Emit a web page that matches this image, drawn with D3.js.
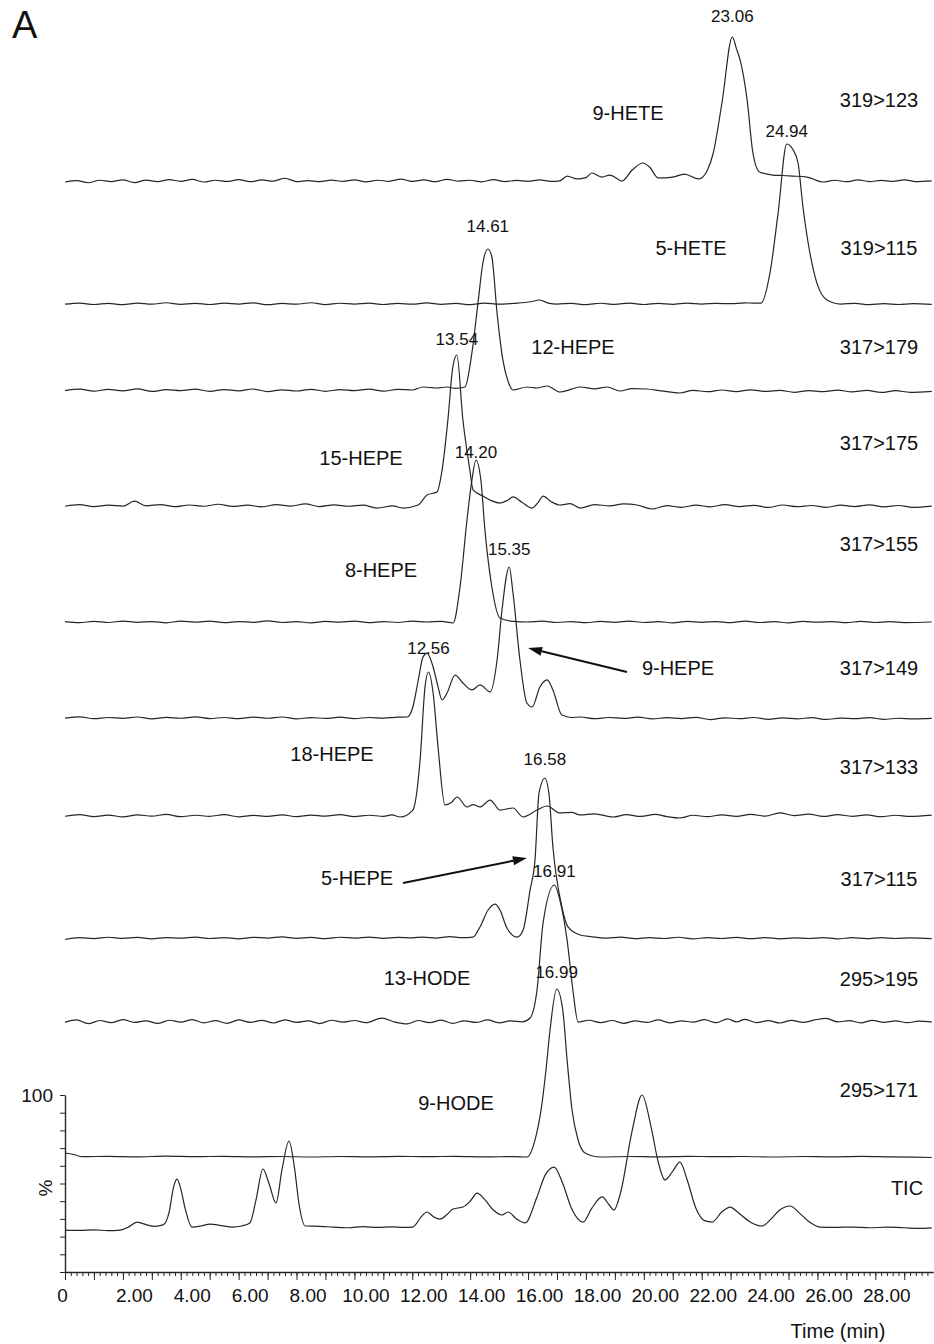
<!DOCTYPE html>
<html>
<head>
<meta charset="utf-8">
<script src="https://cdn.jsdelivr.net/npm/d3@7"></script>
<style>
    body { margin: 0; background: #fff; }
    svg text { font-family: 'Liberation Sans', Arial, Helvetica, sans-serif; fill: #111; }
</style>
</head>
<body>
<svg id="chart" width="934" height="1344"></svg>
<script>
// chromatograms, [time (min), relative intensity %]
const compounds = ['9-HETE', '5-HETE', '12-HEPE', '15-HEPE', '8-HEPE', '9-HEPE', '18-HEPE', '5-HEPE', '13-HODE', '9-HODE'];
const transitions = ['319>123', '319>115', '317>179', '317>175', '317>155', '317>149', '317>133', '317>115', '295>195', '295>171'];
const peakTimes = [23.06, 24.94, 14.61, 13.54, 14.20, 15.35, 12.56, 16.58, 16.91, 16.99];
const xTickValues = [0, 2, 4, 6, 8, 10, 12, 14, 16, 18, 20, 22, 24, 26, 28];

const hete9 = [[0,0],[0.4,1],[0.8,-0.5],[1.2,1.2],[1.6,0.3],[2.0,1.5],[2.4,-0.4],[2.8,1.3],[3.2,0.2],[3.6,1.6],[4.0,0.5],[4.4,1.8],[4.8,0],[5.2,1.2],[5.6,0.4],[6.0,1.6],[6.4,0.2],[6.8,1.4],[7.2,0.6],[7.6,2.6],[8.0,0.3],[8.4,1.0],[8.8,0.2],[9.2,1.3],[9.6,0.4],[10.0,1.5],[10.4,0.1],[10.8,1.2],[11.2,0.5],[11.6,2.0],[12.0,0.4],[12.4,1.4],[12.8,0.2],[13.2,1.8],[13.6,0.6],[14.0,1.2],[14.4,0.1],[14.8,1.6],[15.2,0.3],[15.6,1.1],[16.0,0.5],[16.4,1.5],[16.8,0.4],[17.1,0.8],[17.35,4.1],[17.7,2.1],[18.0,3.0],[18.2,6.2],[18.55,3.4],[18.83,4.8],[19.25,0.7],[19.6,8.3],[19.97,13.1],[20.2,10.3],[20.5,2.8],[21.0,3.4],[21.4,5.5],[21.9,2.1],[22.2,8.3],[22.4,20],[22.7,54.5],[23.06,100],[23.2,92],[23.33,84],[23.57,56.6],[23.77,20],[24.0,6.9],[24.46,4.8],[24.8,4.5],[25.15,4.1],[25.64,3.4],[26.2,0],[26.6,1.2],[27.0,0.2],[27.4,1.4],[27.8,0.3],[28.2,1.1],[28.6,0.4],[29.0,1.5],[29.4,0.3],[29.95,0.8]];
const hete5 = [[0,0.5],[0.5,1.2],[1.0,0.3],[1.5,1.0],[2.0,0.2],[2.5,1.2],[3.0,0.5],[3.5,1.4],[4.0,0.4],[4.5,1.0],[5.0,0.3],[5.5,1.2],[6.0,0.6],[6.5,1.3],[7.0,0.2],[7.5,1.0],[8.0,0.5],[8.5,1.4],[9.0,0.2],[9.5,1.1],[10.0,0.6],[10.5,1.2],[11.0,0.3],[11.5,1.0],[12.0,0.5],[12.5,1.3],[13.0,0.4],[13.5,1.0],[14.0,0.2],[14.5,1.2],[15.0,0.5],[15.5,1.0],[16.1,2.0],[16.4,3.1],[16.7,1.2],[17.0,0.6],[17.5,1.0],[18.0,0.2],[18.5,1.1],[19.0,0.4],[19.5,1.2],[20.0,0.3],[20.5,1.0],[21.0,0.4],[21.5,1.2],[22.0,0.6],[22.5,1.0],[23.0,0.8],[23.5,1.3],[23.8,1.2],[24.05,1.2],[24.36,19.9],[24.64,57.1],[24.94,100],[25.16,96.3],[25.33,88.2],[25.5,60.9],[25.74,32.3],[25.98,13.7],[26.33,3.1],[26.8,0.6],[27.3,1.0],[27.8,0.2],[28.3,0.8],[28.8,0.3],[29.3,0.9],[29.95,0.4]];
const hepe12 = [[0,1.0],[0.5,2.0],[1.0,0.6],[1.5,1.8],[2.0,0.8],[2.5,2.2],[3.0,0.4],[3.5,1.6],[4.0,0.9],[4.5,2.0],[5.0,0.5],[5.5,1.7],[6.0,0.8],[6.5,2.1],[7.0,0.3],[7.5,1.5],[8.0,0.7],[8.5,1.9],[9.0,0.5],[9.5,1.6],[10.0,0.9],[10.5,2.0],[11.0,0.6],[11.5,1.8],[12.0,1.4],[12.37,3.5],[12.85,2.8],[13.2,3.5],[13.5,2.5],[13.82,3.5],[14.06,27.3],[14.27,62.2],[14.44,90.2],[14.61,100],[14.75,94.4],[14.93,55.2],[15.13,22.4],[15.3,8],[15.48,1.4],[15.96,3.5],[16.3,2.8],[16.66,4.2],[17.1,0],[17.5,2.0],[17.8,3.5],[18.3,2.2],[18.73,3.5],[19.18,0.7],[19.6,2.4],[20.1,2.1],[20.6,0.8],[21.25,-0.7],[21.7,1.2],[22.2,0.2],[22.7,1.4],[23.2,0.3],[23.7,1.5],[24.2,0.4],[24.7,1.2],[25.2,-0.2],[25.7,1.0],[26.2,0.2],[26.7,1.3],[27.2,0.1],[27.7,1.1],[28.2,-0.3],[28.7,0.9],[29.2,-0.2],[29.95,0.5]];
const hepe15 = [[0,0.5],[0.5,1.5],[1.0,0.2],[1.5,1.2],[2.0,0.6],[2.4,3.8],[2.8,0.8],[3.3,1.6],[3.8,0.2],[4.3,1.3],[4.8,0.5],[5.3,1.8],[5.8,0.4],[6.3,1.2],[6.8,0.1],[7.3,1.5],[7.8,0.6],[8.3,2.0],[8.8,0.3],[9.3,1.4],[9.8,0.5],[10.3,1.2],[10.78,-0.7],[11.33,0.7],[11.68,-0.7],[12.2,1.3],[12.51,7.9],[12.85,9.9],[13.03,24.3],[13.23,57.2],[13.4,92],[13.54,100],[13.75,57.2],[13.99,24.3],[14.1,11.2],[14.44,7.2],[14.75,4.0],[15.03,2.6],[15.3,4.5],[15.48,6.6],[15.8,3.0],[16.14,-0.7],[16.35,3.0],[16.52,7.2],[16.8,3.5],[17.1,1.3],[17.45,2.2],[17.8,-0.7],[18.3,1.6],[18.83,0.7],[19.3,2.0],[19.77,1.3],[20.3,-1.3],[20.8,0.9],[21.3,-0.2],[21.8,1.2],[22.3,0.1],[22.8,1.5],[23.3,0.3],[23.8,1.1],[24.3,-0.3],[24.8,1.3],[25.3,0.2],[25.8,1.0],[26.3,-0.2],[26.8,1.2],[27.3,0.3],[27.8,1.4],[28.3,0.1],[28.8,1.0],[29.3,-0.2],[29.95,0.6]];
const hepe8 = [[0,0.8],[0.5,0.2],[1.0,1.0],[1.5,0.3],[2.0,1.2],[2.5,0.4],[3.0,0.9],[3.5,0.1],[4.0,1.1],[4.5,0.5],[5.0,1.2],[5.5,0.2],[6.0,0.9],[6.5,0.4],[7.0,1.3],[7.5,0.3],[8.0,0.8],[8.5,0.1],[9.0,1.0],[9.5,0.5],[10.0,1.1],[10.5,0.2],[11.0,0.9],[11.5,0.3],[12.0,1.2],[12.5,0.6],[13.0,1.0],[13.41,0],[13.65,22.1],[13.89,63.2],[14.06,87.7],[14.2,100],[14.37,87.7],[14.51,57.1],[14.75,22.1],[15.03,3.1],[15.5,1.0],[15.96,0.6],[16.5,1.1],[17.0,0.3],[17.5,0.9],[18.0,0.2],[18.5,1.0],[19.0,0.4],[19.5,1.2],[20.0,0.3],[20.5,0.8],[21.0,0.1],[21.5,1.0],[22.0,0.4],[22.5,0.9],[23.0,0.2],[23.5,1.1],[24.0,0.3],[24.5,0.8],[25.0,0.1],[25.5,1.0],[26.0,0.5],[26.5,0.9],[27.0,0.2],[27.5,1.0],[28.0,0.3],[28.5,0.8],[29.0,0.2],[29.95,0.6]];
const hepe9 = [[0,0.6],[0.5,1.4],[1.0,0.2],[1.5,1.0],[2.0,0.4],[2.5,1.3],[3.0,0.1],[3.5,1.1],[4.0,0.5],[4.5,1.4],[5.0,0.3],[5.5,1.0],[6.0,0.2],[6.5,1.2],[7.0,0.5],[7.5,1.3],[8.0,0.1],[8.5,0.9],[9.0,0.4],[9.5,1.2],[10.0,0.3],[10.5,1.0],[11.0,0.6],[11.5,1.2],[11.82,1.3],[12.02,7.9],[12.2,25],[12.37,40.8],[12.51,43.4],[12.72,34.2],[12.88,22],[13.03,12.5],[13.2,17.1],[13.48,28.9],[13.75,23.7],[14.06,19.1],[14.34,22.4],[14.69,17.8],[14.93,38.8],[15.1,71.7],[15.35,100],[15.48,82.9],[15.72,38.8],[15.96,10.5],[16.14,7.9],[16.41,21.1],[16.66,25.7],[16.86,19.1],[17.17,2.6],[17.5,1.0],[17.8,1.3],[18.3,0.2],[18.8,1.0],[19.3,0.4],[19.8,1.2],[20.3,0.1],[20.8,0.9],[21.3,0.3],[21.8,1.1],[22.3,-0.4],[22.8,0.8],[23.3,0.2],[23.8,1.0],[24.3,-0.2],[24.8,0.7],[25.3,0.1],[25.8,0.9],[26.3,-0.3],[26.8,0.6],[27.3,0.2],[27.8,0.9],[28.3,-0.2],[28.8,0.5],[29.3,0.1],[29.95,0.4]];
const hepe18 = [[0,0.5],[0.5,1.6],[1.0,0.3],[1.5,1.3],[2.0,0.1],[2.5,1.5],[3.0,0.6],[3.5,1.8],[4.0,0.2],[4.5,1.2],[5.0,0.5],[5.5,1.6],[6.0,0.1],[6.5,1.1],[7.0,0.4],[7.5,1.5],[8.0,0.2],[8.5,1.3],[9.0,0.6],[9.5,1.7],[10.0,0.3],[10.5,1.2],[11.0,0.5],[11.3,1.4],[11.58,0],[12.02,4.8],[12.27,39.3],[12.44,89.7],[12.56,100],[12.72,85.5],[12.89,48.3],[13.13,8.3],[13.35,10],[13.55,13.8],[13.89,6.9],[14.1,8.5],[14.34,6.9],[14.69,11.7],[15.03,4.8],[15.48,6.2],[15.83,0],[16.31,4.8],[16.66,7.6],[17.1,2.8],[17.5,3.2],[17.8,1.4],[18.3,2.2],[18.94,0],[19.4,1.6],[19.9,0.4],[20.4,1.8],[20.8,0.3],[21.25,-0.7],[21.7,1.2],[22.2,0.2],[22.7,1.5],[23.2,0.5],[23.7,1.8],[24.2,0.6],[24.7,2.8],[25.2,1.0],[25.7,2.0],[26.2,0.4],[26.7,1.6],[27.2,0.5],[27.7,1.4],[28.2,0.2],[28.7,1.2],[29.2,0.4],[29.95,1.3]];
const hepe5 = [[0,-0.3],[0.5,0.8],[1.0,0.2],[1.5,1.1],[2.0,0.4],[2.5,1.0],[3.0,0.1],[3.5,0.9],[4.0,0.5],[4.5,1.2],[5.0,0.3],[5.5,0.9],[6.0,0.1],[6.5,1.0],[7.0,0.6],[7.5,1.3],[8.0,0.4],[8.5,1.0],[9.0,0.2],[9.5,1.1],[10.0,0.5],[10.5,1.2],[11.0,0.4],[11.5,1.0],[12.0,0.7],[12.37,1.2],[12.8,0.6],[13.3,1.5],[13.7,0.8],[14.1,1.2],[14.34,7.5],[14.62,18],[14.86,21.7],[15.03,18],[15.27,6.8],[15.62,1.2],[15.83,5.6],[16.07,30.4],[16.24,49],[16.38,90.7],[16.58,100],[16.72,90.7],[16.86,57.1],[17.17,19.9],[17.38,7.5],[17.8,2.5],[18.2,1.4],[18.73,0.6],[19.2,1.2],[19.7,0.2],[20.2,0.9],[20.7,0.3],[21.2,1.1],[21.7,0.1],[22.2,0.8],[22.7,0.3],[23.2,1.0],[23.7,0.2],[24.2,0.9],[24.7,0.1],[25.2,0.7],[25.7,0.3],[26.2,0.9],[26.7,0.1],[27.2,0.8],[27.7,0.2],[28.2,0.9],[28.7,0.3],[29.2,0.7],[29.95,0.2]];
const hode13 = [[0,0.5],[0.4,2.2],[0.8,-0.5],[1.2,1.8],[1.6,0.2],[2.0,2.5],[2.4,0.4],[2.8,1.6],[3.2,-0.3],[3.6,2.0],[4.0,0.6],[4.4,2.4],[4.8,0.1],[5.2,1.7],[5.6,-0.2],[6.0,2.2],[6.4,0.5],[6.8,1.9],[7.2,0],[7.6,2.3],[8.0,0.4],[8.4,1.6],[8.8,-0.4],[9.2,2.0],[9.6,0.6],[10.0,1.8],[10.4,0.2],[10.95,3.6],[11.4,0.6],[11.82,-0.7],[12.2,1.8],[12.6,0.3],[13.0,2.1],[13.4,-0.2],[13.8,1.6],[14.2,0.4],[14.6,2.2],[15.0,0.1],[15.4,1.5],[15.8,0.8],[16.07,3.6],[16.31,23.9],[16.52,72.5],[16.91,100],[17.1,89],[17.35,60],[17.55,23.9],[17.73,0.7],[18.1,2.0],[18.5,0.3],[18.9,1.8],[19.3,-0.2],[19.7,1.5],[20.1,0.4],[20.5,2.2],[20.9,0.1],[21.3,1.6],[21.7,0.6],[22.1,2.4],[22.5,0.2],[22.9,3.0],[23.2,0.8],[23.5,2.6],[23.9,0.3],[24.3,1.7],[24.7,0.0],[25.1,1.9],[25.5,0.4],[25.9,2.2],[26.3,3.4],[26.7,0.8],[27.1,1.7],[27.5,0.1],[27.9,1.9],[28.3,0.5],[28.7,1.6],[29.1,0.2],[29.5,1.3],[29.95,0.6]];
const hode9 = [[0,2.4],[0.3,1.5],[0.6,0.2],[1.5,0.4],[2.5,0.1],[3.5,0.5],[4.5,0.2],[5.5,0.4],[6.5,0.1],[7.5,0.3],[8.5,0.0],[9.5,0.3],[10.5,0.1],[11.5,0.4],[12.5,0.2],[13.5,0.4],[14.5,0.1],[15.5,0.2],[15.96,0],[16.24,10.1],[16.45,28],[16.62,51.8],[16.76,75.6],[16.99,100],[17.2,87.5],[17.35,57.7],[17.52,28],[17.73,10.1],[17.97,2.4],[18.49,0],[19.5,0.3],[20.5,0.1],[21.5,0.4],[22.5,0.2],[23.5,0.3],[24.5,0],[25.5,0.3],[26.5,0.1],[27.5,0.4],[28.5,0.1],[29.95,-0.3]];
const tic = [[0,23.7],[0.5,23.5],[1.0,23.8],[1.5,23.4],[1.9,23.7],[2.2,25.5],[2.49,28.2],[2.83,26.6],[3.1,25.8],[3.39,26.6],[3.6,34],[3.75,48],[3.87,52.5],[4.0,47],[4.15,36],[4.39,25.4],[4.7,26],[5.01,27.1],[5.4,26.2],[5.8,25.4],[6.1,26],[6.39,27.7],[6.6,40.7],[6.84,58.2],[7.05,50],[7.29,39],[7.5,58],[7.74,74],[7.92,60],[8.1,37],[8.3,26],[8.8,25.8],[9.26,25.4],[9.8,25],[10.3,25.6],[10.8,25.2],[11.3,25.5],[11.7,25.2],[12.02,25.4],[12.3,31],[12.51,33.9],[12.75,31],[12.96,29.9],[13.2,32.5],[13.41,35.6],[13.75,36.7],[14.0,40],[14.24,44.6],[14.5,41],[14.8,35],[15.1,32.2],[15.31,33.9],[15.6,30],[15.9,27.7],[16.3,42],[16.6,55],[16.9,59.3],[17.2,50],[17.5,36],[17.9,28.2],[18.2,36],[18.56,42.4],[18.8,38],[18.97,35],[19.2,45],[19.6,80],[19.94,100],[20.25,82],[20.5,62],[20.73,52],[21.0,57],[21.25,62.1],[21.5,52],[21.8,36],[22.1,29],[22.36,28.2],[22.7,34],[22.98,36.7],[23.3,33],[23.7,28],[24.08,26],[24.4,30],[24.7,35],[25.05,37.3],[25.4,33],[25.7,28.5],[26.09,25.4],[26.6,25.2],[27.2,25.4],[27.8,25],[28.4,25.3],[29.0,25],[29.5,24.6],[29.95,24.9]];

const traces = [hete9, hete5, hepe12, hepe15, hepe8, hepe9, hepe18, hepe5, hode13, hode9];

// layout of each stacked trace (pixels)
const lanes = [
    { base: 182, height: 145, peakDy: 15, nameX: 628, nameY: 120, transY: 107 },
    { base: 305, height: 161, peakDy: 7, nameX: 691, nameY: 255, transY: 255 },
    { base: 392, height: 143, peakDy: 17, nameX: 573, nameY: 354, transY: 354 },
    { base: 507, height: 152, peakDy: 10, nameX: 361, nameY: 465, transY: 450 },
    { base: 623, height: 163, peakDy: 2, nameX: 381, nameY: 577, transY: 551 },
    { base: 719, height: 152, peakDy: 12, nameX: 678, nameY: 675, transY: 675 },
    { base: 817, height: 145, peakDy: 18, nameX: 332, nameY: 761, transY: 774 },
    { base: 939, height: 161, peakDy: 13, nameX: 357, nameY: 885, transY: 886 },
    { base: 1023, height: 138, peakDy: 8, nameX: 427, nameY: 985, transY: 986 },
    { base: 1157, height: 168, peakDy: 11, nameX: 456, nameY: 1110, transY: 1097 }
];

const width = 934;
const height = 1344;
const transX = 879;
const lineColor = '#262626';

const svg = d3.select('#chart');
svg.append('rect').attr('width', width).attr('height', height).attr('fill', '#fff');

const x = d3.scaleLinear().domain([0, 30]).range([65, 65 + 30 * 28.94]);
const yTic = d3.scaleLinear().domain([0, 100]).range([1272, 1095]);

const makeLine = (y) => d3.line()
    .x(d => x(d[0]))
    .y(d => y(d[1]))
    .curve(d3.curveMonotoneX);

const laneScales = lanes.map(l => d3.scaleLinear().domain([0, 100]).range([l.base, l.base - l.height]));

traces.forEach((data, i) => {
    const lane = lanes[i];
    const y = laneScales[i];

    svg.append('path')
        .datum(data)
        .attr('d', makeLine(y))
        .attr('fill', 'none')
        .attr('stroke', lineColor)
        .attr('stroke-width', 1.2)
        .attr('stroke-linejoin', 'round');

    svg.append('text')
        .attr('x', x(peakTimes[i]))
        .attr('y', y(100) - lane.peakDy)
        .attr('text-anchor', 'middle')
        .attr('font-size', 17)
        .text(peakTimes[i].toFixed(2));

    svg.append('text')
        .attr('x', lane.nameX)
        .attr('y', lane.nameY)
        .attr('text-anchor', 'middle')
        .attr('font-size', 20)
        .text(compounds[i]);

    svg.append('text')
        .attr('x', transX)
        .attr('y', lane.transY)
        .attr('text-anchor', 'middle')
        .attr('font-size', 20)
        .text(transitions[i]);
});

// TIC on the % axis
svg.append('path')
    .datum(tic)
    .attr('d', makeLine(yTic))
    .attr('fill', 'none')
    .attr('stroke', lineColor)
    .attr('stroke-width', 1.2);

svg.append('text')
    .attr('x', 907)
    .attr('y', 1195)
    .attr('text-anchor', 'middle')
    .attr('font-size', 20)
    .text('TIC');

// arrows: tip given in data coords of its lane, tail in pixels
const arrows = [
    { lane: 5, tip: [16.0, 46.7], tail: [627, 672] },
    { lane: 7, tip: [15.96, 50.3], tail: [403, 883] }
];
arrows.forEach(a => {
    const tx = x(a.tip[0]);
    const ty = laneScales[a.lane](a.tip[1]);
    const ang = Math.atan2(ty - a.tail[1], tx - a.tail[0]);
    const headLen = 14;
    const headW = 4.5;
    const bx = tx - headLen * Math.cos(ang);
    const by = ty - headLen * Math.sin(ang);
    svg.append('line')
        .attr('x1', a.tail[0]).attr('y1', a.tail[1])
        .attr('x2', bx).attr('y2', by)
        .attr('stroke', '#111')
        .attr('stroke-width', 2);
    const nx = -Math.sin(ang) * headW;
    const ny = Math.cos(ang) * headW;
    svg.append('polygon')
        .attr('points', [[tx, ty], [bx + nx, by + ny], [bx - nx, by - ny]].map(p => p.join(',')).join(' '))
        .attr('fill', '#111');
});

// x axis
const gx = svg.append('g').attr('transform', 'translate(0,1272)');
gx.call(d3.axisBottom(x)
    .tickValues(d3.range(0, 150).map(i => i * 0.2))
    .tickSize(4)
    .tickSizeOuter(0)
    .tickFormat(''));
gx.select('.domain').attr('stroke', lineColor).attr('stroke-width', 1.4);
gx.selectAll('.tick line').attr('stroke', lineColor);

const gxMajor = svg.append('g').attr('transform', 'translate(0,1272)');
gxMajor.call(d3.axisBottom(x)
    .tickValues(d3.range(0, 30))
    .tickSize(8)
    .tickFormat(d => xTickValues.includes(d) ? (d === 0 ? '0' : d.toFixed(2)) : ''));
gxMajor.select('.domain').remove();
gxMajor.selectAll('.tick line').attr('stroke', lineColor);
gxMajor.selectAll('.tick text')
    .attr('y', 30)
    .attr('dy', null)
    .attr('dx', d => d === 0 ? -3 : 11)
    .attr('font-size', 19)
    .attr('font-family', null)
    .attr('fill', '#111');

svg.append('text')
    .attr('x', 838)
    .attr('y', 1338)
    .attr('text-anchor', 'middle')
    .attr('font-size', 20)
    .text('Time (min)');

// y axis
const gy = svg.append('g').attr('transform', 'translate(65,0)');
gy.call(d3.axisLeft(yTic)
    .tickValues(d3.range(0, 101, 10))
    .tickSize(5)
    .tickSizeOuter(0)
    .tickPadding(7)
    .tickFormat(d => d === 100 ? '100' : ''));
gy.select('.domain').attr('stroke', lineColor).attr('stroke-width', 1.4);
gy.selectAll('.tick line').attr('stroke', lineColor);
gy.selectAll('.tick text')
    .attr('font-size', 19)
    .attr('font-family', null)
    .attr('fill', '#111');

svg.append('text')
    .attr('transform', 'translate(52,1188) rotate(-90)')
    .attr('text-anchor', 'middle')
    .attr('font-size', 19)
    .text('%');

svg.append('text')
    .attr('x', 12)
    .attr('y', 38)
    .attr('font-size', 38)
    .text('A');
</script>
</body>
</html>
